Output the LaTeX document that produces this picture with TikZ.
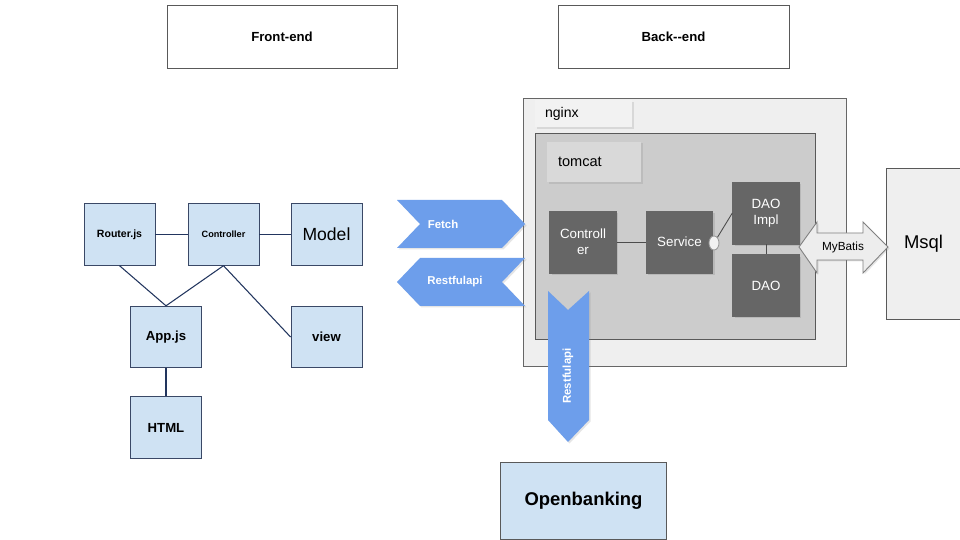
\documentclass[tikz,border=0pt]{standalone}
\usepackage{fontspec}
\setmainfont{Liberation Sans}
\usetikzlibrary{shadows}

\definecolor{paleblue}{HTML}{CFE2F3}
\definecolor{navyline}{HTML}{22355E}
\definecolor{boxedge}{HTML}{3A4866}
\definecolor{chevblue}{HTML}{6D9EEB}
\definecolor{darkbox}{HTML}{666666}
\definecolor{tomcatbg}{HTML}{CCCCCC}
\definecolor{nginxbg}{HTML}{EFEFEF}

\begin{document}
\begin{tikzpicture}[x=0.02cm,y=-0.02cm,
  every node/.style={line width=0.5pt},
  headbox/.style={draw=black!65,fill=white,minimum width=4.6cm,minimum height=1.26cm,
    font=\fontsize{7.5}{9}\selectfont\bfseries},
  fbox/.style={draw=boxedge,fill=paleblue,minimum width=1.42cm,minimum height=1.23cm,
    font=\fontsize{7.5}{9}\selectfont\bfseries},
  darkbox/.style={draw=black!60,fill=darkbox,text=white,minimum width=1.33cm,minimum height=1.24cm,
    align=center,font=\fontsize{7.6}{9.2}\selectfont,
    drop shadow={opacity=0.25,shadow xshift=0.04cm,shadow yshift=-0.04cm}},
  tag/.style={align=left,minimum height=#1,
    drop shadow={opacity=0.2,shadow xshift=0.04cm,shadow yshift=-0.04cm}},
  chev/.style={fill=chevblue,draw=none,
    drop shadow={opacity=0.2,shadow xshift=0.03cm,shadow yshift=-0.03cm}},
  chevtext/.style={text=white,font=\fontsize{6.5}{8}\selectfont\bfseries},
  link/.style={draw=navyline,line width=0.6pt}]

\useasboundingbox[fill=white] (0,0) rectangle (960,540);

% headers
\node [headbox] (fronthead) at (282,36.5) {Front-end};
\node [headbox,minimum width=4.62cm] (backhead) at (673.5,36.5) {Back-{}-end};

% front-end
\node [fbox,font=\fontsize{6}{7}\selectfont\bfseries] (router) at (119.5,234.5) {Router.js};
\node [fbox,font=\fontsize{5.2}{6}\selectfont\bfseries] (fctrl) at (223.5,234.5) {Controller};
\node [fbox,font=\fontsize{10}{12}\selectfont] (model) at (326.5,234.5) {Model};
\node [fbox] (app) at (166,337) {App.js};
\node [fbox] (view) at (326.5,337) {view};
\node [fbox] (html) at (166,427.5) {HTML};

\draw [link] (router) -- (fctrl);
\draw [link] (fctrl) -- (model);
\draw [link] (router.south) -- (app.north);
\draw [link] (fctrl.south) -- (app.north);
\draw [link] (fctrl.south) -- (view.west);
\draw [link] (app) -- (html);

% back-end
\node [draw=black!60,fill=nginxbg,minimum width=6.46cm,minimum height=5.36cm] (nginx) at (684.5,232) {};
\node [tag=0.54cm,fill=black!5,text width=1.54cm,inner xsep=0.2cm,font=\fontsize{8}{10}\selectfont]
  (nginxtag) at (583.5,113.5) {nginx};
\node [draw=black!65,fill=tomcatbg,minimum width=5.6cm,minimum height=4.12cm] (tomcat) at (675,236) {};
\node [tag=0.82cm,fill=black!15,text width=1.44cm,inner xsep=0.22cm,font=\fontsize{8.3}{10}\selectfont]
  (tomcattag) at (594,162) {tomcat};

\node [darkbox] (bctrl) at (583,242) {Controll\\er};
\node [darkbox] (service) at (679.5,242) {Service};
\node [darkbox] (daoimpl) at (766,213) {DAO\\Impl};
\node [darkbox] (dao) at (766,285.5) {DAO};

\draw [black!70,line width=0.5pt] (bctrl) -- (service);
\draw [black!70,line width=0.5pt] (daoimpl) -- (dao);
\node [draw=black!40,fill=black!5,circle,minimum size=0.2cm,inner sep=0pt,yscale=1.4] (port) at (714,243) {};
\draw [black!70,line width=0.5pt] (port) -- (daoimpl.west);

% database
\node [draw=black!65,fill=nginxbg,minimum width=1.5cm,minimum height=3.02cm,
  font=\fontsize{10.5}{12}\selectfont] (msql) at (923.5,243.5) {Msql};
\draw [draw=black!50,fill=black!7,line width=0.5pt,
  drop shadow={opacity=0.2,shadow xshift=0.03cm,shadow yshift=-0.03cm}]
  (799,247) -- (817,222) -- (817,233) -- (863,233) -- (863,222) -- (888,247)
  -- (863,273) -- (863,260) -- (817,260) -- (817,273) -- cycle;
\node [font=\fontsize{6.7}{8}\selectfont] (mybatis) at (843,247) {MyBatis};

% requests
\fill [chev] (397,200) -- (502,200) -- (525,224) -- (502,248) -- (397,248) -- (420,224) -- cycle;
\node [chevtext] (fetch) at (443,224) {Fetch};
\fill [chev] (420,258) -- (525,258) -- (502,282) -- (525,306) -- (420,306) -- (397,282) -- cycle;
\node [chevtext] (restleft) at (455,282) {Restfulapi};
\fill [chev] (548,291) -- (568,310) -- (589,291) -- (589,420) -- (568,442) -- (548,420) -- cycle;
\node [chevtext,rotate=90] (restdown) at (568,376) {Restfulapi};

% open banking
\node [draw=black!65,fill=paleblue,minimum width=3.32cm,minimum height=1.54cm,
  font=\fontsize{10.5}{12}\selectfont\bfseries] (openbank) at (583.5,501) {Openbanking};

\end{tikzpicture}
\end{document}
